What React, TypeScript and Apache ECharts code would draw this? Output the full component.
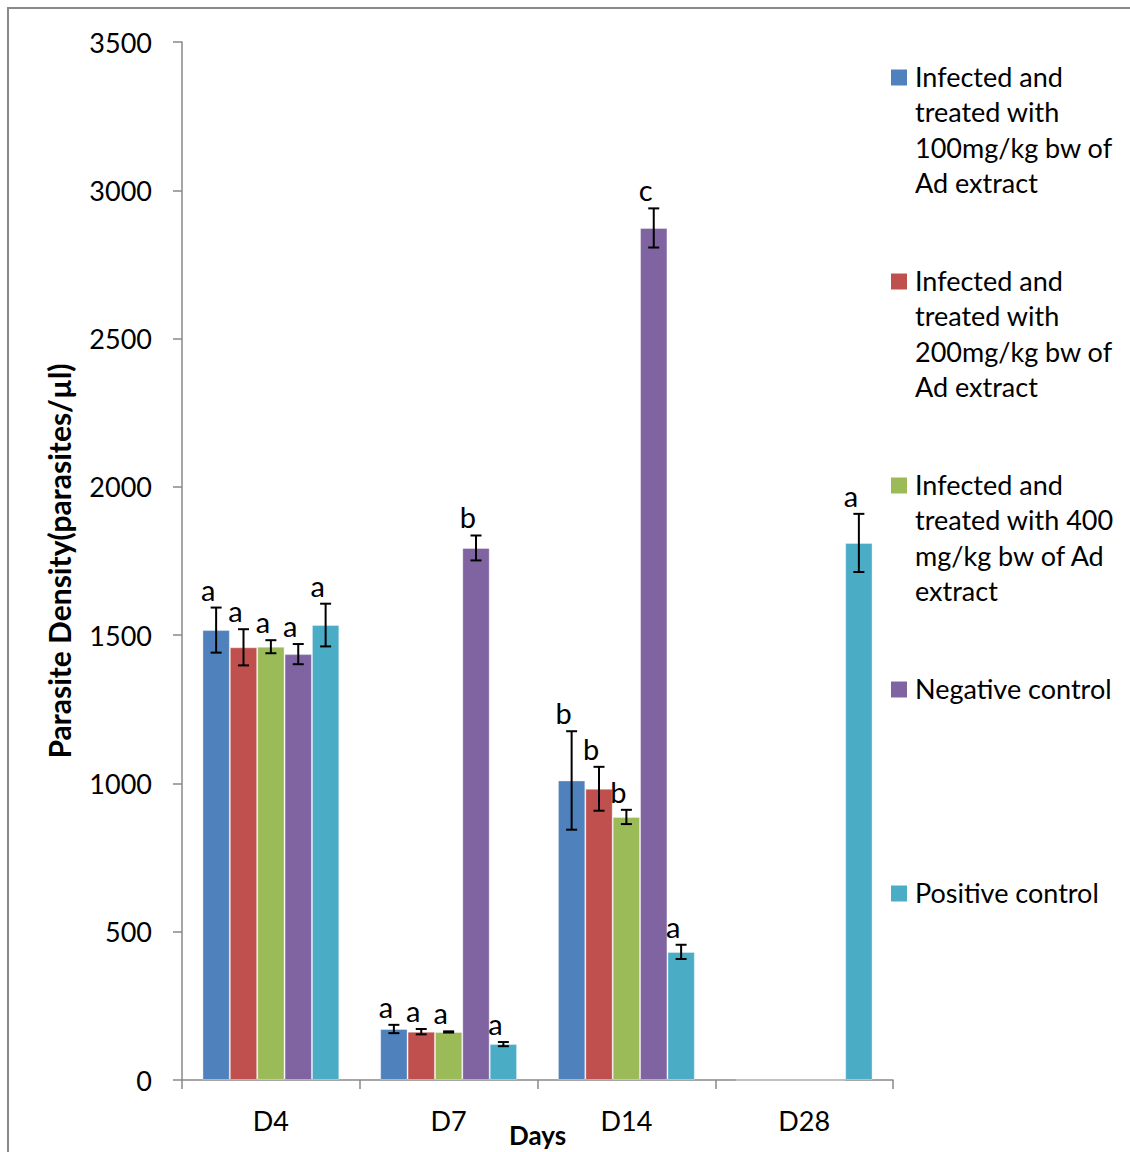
import React, { useEffect, useRef } from "react";
import * as echarts from "echarts";

const categories = ["D4", "D7", "D14", "D28"];

const seriesNames = [
  "Infected and treated with 100mg/kg bw of Ad extract",
  "Infected and treated with 200mg/kg bw of Ad extract",
  "Infected and treated with 400 mg/kg bw of Ad extract",
  "Negative control",
  "Positive control",
];

const legendLines = [
  ["Infected and", "treated with", "100mg/kg bw of", "Ad extract"],
  ["Infected and", "treated with", "200mg/kg bw of", "Ad extract"],
  ["Infected and", "treated with 400", "mg/kg bw of Ad", "extract"],
  ["Negative control"],
  ["Positive control"],
];

const dose100 = [1517, 172, 1010, 0];
const dose200 = [1459, 163, 982, 0];
const dose400 = [1461, 162, 887, 0];
const negative = [1436, 1794, 2873, 0];
const positive = [1534, 121, 432, 1811];

const err100 = [76, 14, 166, 0];
const err200 = [61, 9, 74, 0];
const err400 = [22, 2, 24, 0];
const errNeg = [34, 42, 66, 0];
const errPos = [72, 7, 24, 98];

const let100 = ["a", "a", "b", ""];
const let200 = ["a", "a", "b", ""];
const let400 = ["a", "a", "b", ""];
const letNeg = ["a", "b", "c", ""];
const letPos = ["a", "a", "a", "a"];

const colors = ["#4F81BD", "#C0504D", "#9BBB59", "#8064A2", "#4BACC6"];

const values = [dose100, dose200, dose400, negative, positive];
const errors = [err100, err200, err400, errNeg, errPos];
const letters = [let100, let200, let400, letNeg, letPos];

const yTicks = [0, 500, 1000, 1500, 2000, 2500, 3000, 3500];

const FONT = "Lato, 'Noto Sans', sans-serif";
const GAP = 0.23;

export default function App() {
  const ref = useRef<HTMLDivElement>(null);

  useEffect(() => {
    if (!ref.current) return;
    const chart = echarts.init(ref.current, null, { renderer: "svg" });
    const n = values.length;

    const barSeries = values.map((vals, si) => ({
      type: "bar",
      name: seriesNames[si],
      data: vals,
      barGap: "0%",
      barCategoryGap: GAP * 100 + "%",
      itemStyle: { color: colors[si], borderColor: "rgba(255,255,255,0.35)", borderWidth: 1 },
      z: 2,
    }));

    const errSeries = values.map((vals, si) => ({
      type: "custom",
      name: seriesNames[si] + " error",
      data: vals.map((v, i) => [i, v, errors[si][i]]),
      encode: { x: 0, y: 1 },
      z: 10,
      silent: true,
      renderItem: (params: any, api: any) => {
        const ci = api.value(0);
        const v = api.value(1);
        const e = api.value(2);
        const label = letters[si][params.dataIndex];
        if (!v) return { type: "group", children: [] };
        const catW = api.size([1, 0])[0];
        const groupW = catW * (1 - GAP);
        const barW = groupW / n;
        const cx = api.coord([ci, 0])[0] - groupW / 2 + barW * (si + 0.5);
        const top = api.coord([ci, v + e])[1];
        const bot = api.coord([ci, v - e])[1];
        const cap = 5.5;
        const ls = { stroke: "#000", lineWidth: 2 };
        const children: any[] = [
          { type: "line", shape: { x1: cx, y1: top, x2: cx, y2: bot }, style: ls },
          { type: "line", shape: { x1: cx - cap, y1: top, x2: cx + cap, y2: top }, style: ls },
          { type: "line", shape: { x1: cx - cap, y1: bot, x2: cx + cap, y2: bot }, style: ls },
        ];
        if (label) {
          children.push({
            type: "text",
            x: cx - 8,
            y: top - 4,
            style: {
              text: label,
              fill: "#000",
              font: "29px " + FONT,
              textAlign: "center",
              textVerticalAlign: "bottom",
            },
          });
        }
        return { type: "group", children };
      },
    }));

    const legendGraphics: any[] = [];
    legendLines.forEach((lines, i) => {
      const cy = 77.5 + i * 204;
      legendGraphics.push({
        type: "rect",
        shape: { x: 891, y: cy - 8, width: 16, height: 16 },
        style: { fill: colors[i] },
      });
      legendGraphics.push({
        type: "text",
        x: 915,
        y: cy - 18.5,
        style: {
          text: lines.join("\n"),
          fill: "#000",
          font: "27px " + FONT,
          lineHeight: 35.3,
          textVerticalAlign: "top",
        },
      });
    });

    chart.setOption({
      animation: false,
      backgroundColor: "#fff",
      grid: {
        left: 182,
        right: 237,
        top: 42,
        bottom: 72,
        containLabel: false,
        outerBoundsMode: "none",
      },
      xAxis: {
        type: "category",
        data: categories,
        boundaryGap: true,
        axisLine: { lineStyle: { color: "#898989", width: 1.5 } },
        axisTick: { show: true, length: 9, lineStyle: { color: "#898989", width: 1.5 } },
        axisLabel: { color: "#000", fontSize: 27, fontFamily: FONT, margin: 27 },
        name: "Days",
        nameLocation: "middle",
        nameGap: 42,
        nameMoveOverlap: false,
        nameTextStyle: { color: "#000", fontSize: 26, fontWeight: "bold", fontFamily: FONT },
      },
      yAxis: {
        type: "value",
        min: 0,
        max: 3500,
        interval: 500,
        axisLine: { show: true, lineStyle: { color: "#898989", width: 1.5 } },
        axisTick: { show: true, length: 9, lineStyle: { color: "#898989", width: 1.5 } },
        splitLine: { show: false },
        axisLabel: {
          color: "#000",
          fontSize: 27,
          fontFamily: FONT,
          margin: 30,
          formatter: (v: number) => (yTicks.includes(v) ? String(v) : ""),
        },
        name: "Parasite Density(parasites/µl)",
        nameLocation: "middle",
        nameGap: 108,
        nameMoveOverlap: false,
        nameTextStyle: { color: "#000", fontSize: 30, fontWeight: "bold", fontFamily: FONT },
      },
      series: [...barSeries, ...errSeries],
      graphic: [
        {
          type: "rect",
          shape: { x: 8, y: 8, width: 1140, height: 1160 },
          style: { fill: "none", stroke: "#898989", lineWidth: 2 },
          silent: true,
          z: -1,
        },
        ...legendGraphics,
      ],
    });

    return () => chart.dispose();
  }, []);

  return (
    <div
      ref={ref}
      style={{ position: "absolute", left: 0, top: 0, width: 1130, height: 1152 }}
    />
  );
}
